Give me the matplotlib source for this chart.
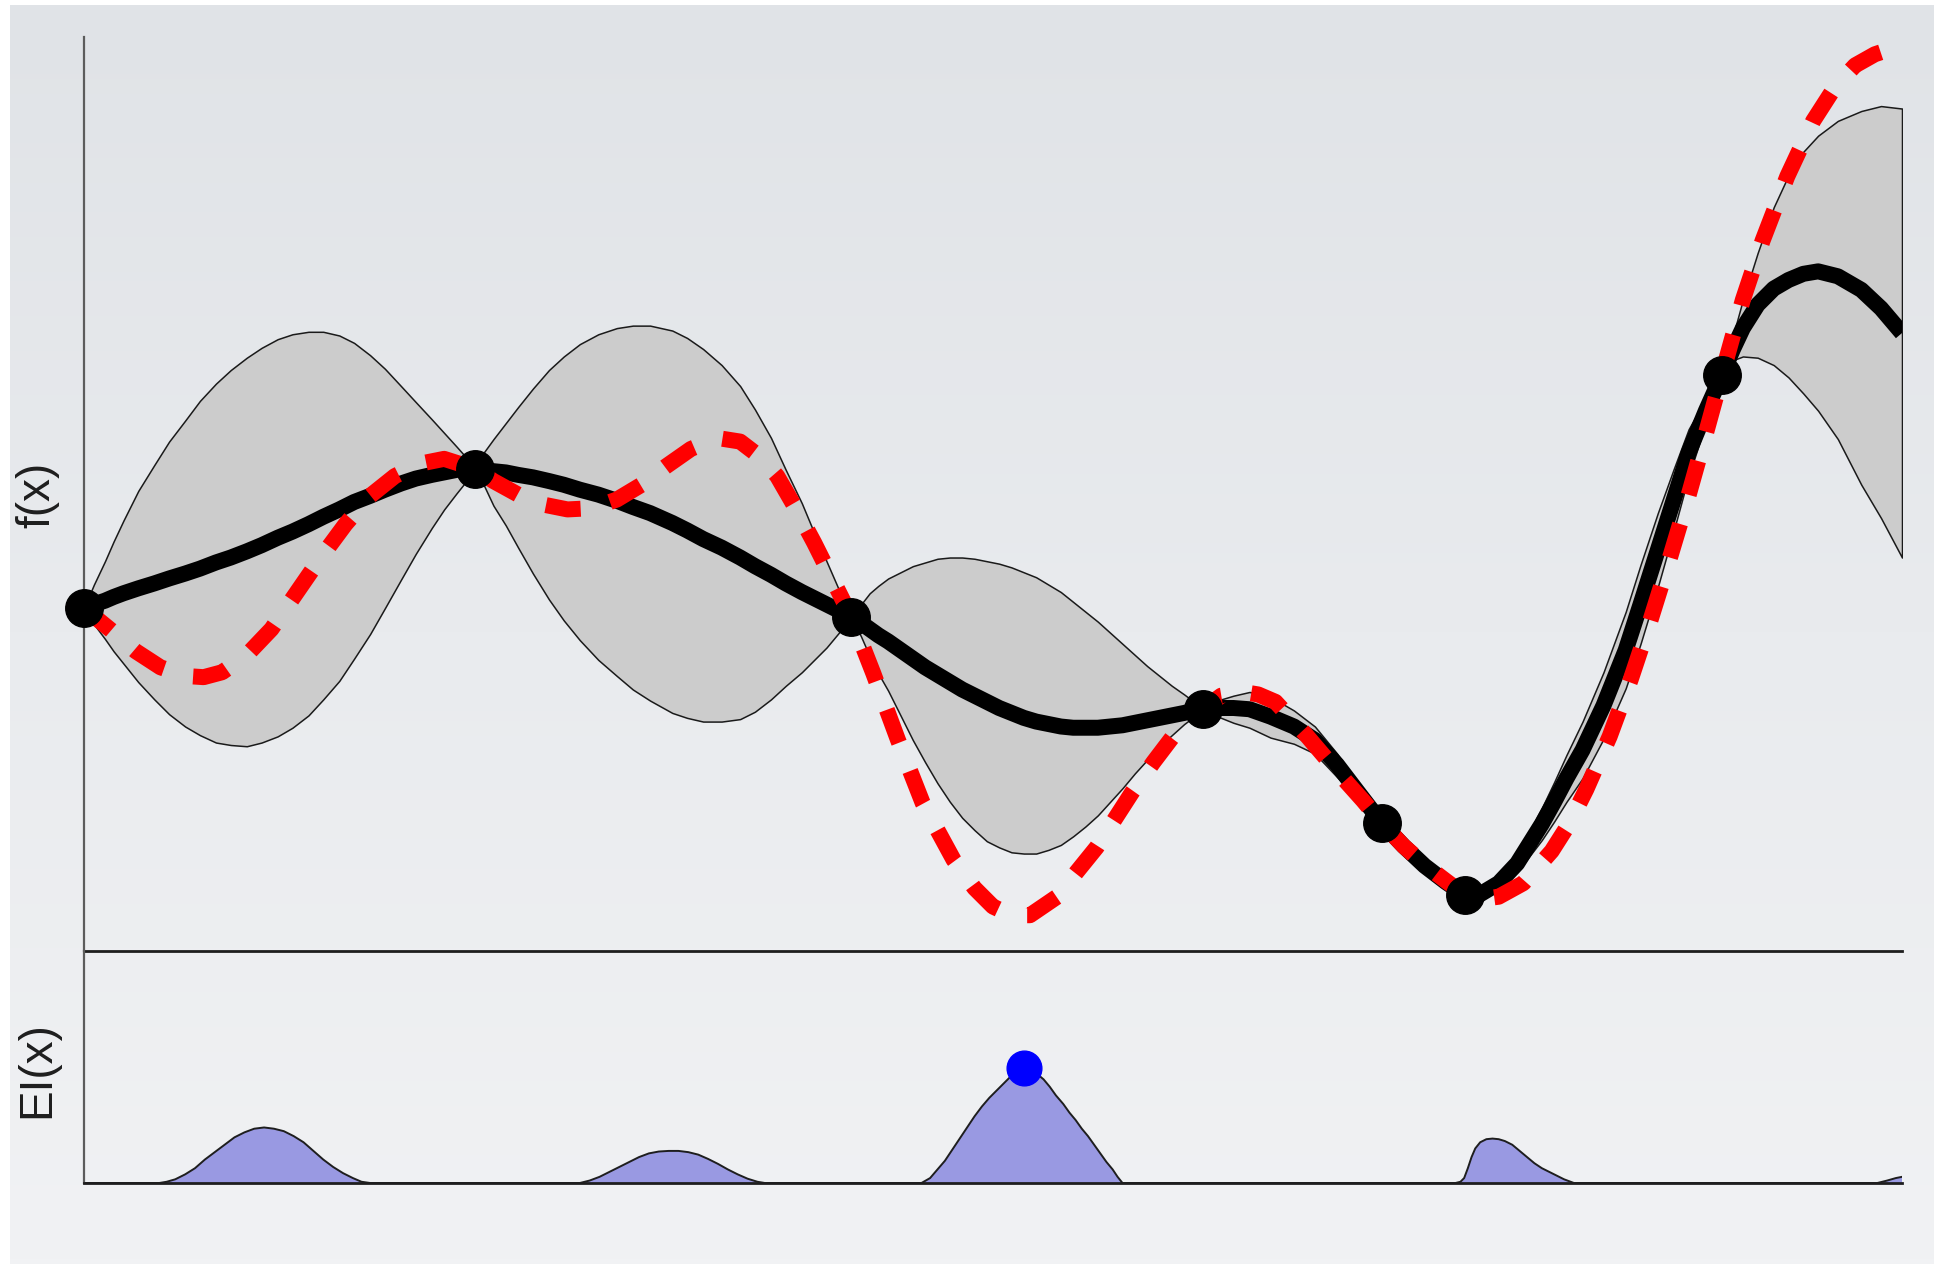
import numpy as np
import matplotlib
matplotlib.use("Agg")
import matplotlib.pyplot as plt
from matplotlib.patches import Rectangle
from matplotlib.colors import LinearSegmentedColormap

# ---- Gaussian-process posterior (mean and confidence band) ----
gp_x = [0.00, 0.08, 0.17, 0.24, 0.32, 0.44, 0.57, 0.69, 0.82, 0.94, 1.07, 1.19, 1.32, 1.44, 1.57,
        1.69, 1.82, 1.94, 2.07, 2.19, 2.32, 2.44, 2.57, 2.69, 2.82, 2.92, 3.02, 3.10, 3.17,
        3.24, 3.32, 3.42, 3.52, 3.64, 3.77, 3.89, 4.02, 4.17, 4.32, 4.45, 4.59, 4.77, 4.89, 5.02,
        5.17, 5.32, 5.44, 5.57, 5.69, 5.82, 5.92, 6.02, 6.12, 6.22,
        6.30, 6.37, 6.44, 6.52, 6.62, 6.72, 6.82, 6.92, 7.02, 7.12, 7.22, 7.32, 7.42, 7.52, 7.62,
        7.72, 7.82, 7.92, 8.02, 8.12, 8.22, 8.32, 8.42, 8.52, 8.62, 8.72, 8.82, 8.92, 9.00, 9.07,
        9.15, 9.22, 9.32, 9.45, 9.62, 9.81, 9.98, 10.16, 10.32, 10.42, 10.52,
        10.70, 10.87, 11.04, 11.20,
        11.32, 11.47, 11.62, 11.72, 11.82, 11.92, 12.02, 12.15, 12.32, 12.50, 12.62, 12.76, 12.89,
        13.01, 13.15, 13.28,
        13.37, 13.45, 13.57, 13.70, 13.82, 13.94, 14.06, 14.22, 14.41, 14.57, 14.74]

gp_mean = [2.78, 2.81, 2.84, 2.87, 2.90, 2.94, 2.98, 3.02, 3.06, 3.10, 3.15, 3.19, 3.24, 3.29, 3.35,
           3.40, 3.46, 3.52, 3.58, 3.64, 3.69, 3.74, 3.79, 3.83, 3.86, 3.88, 3.90, 3.91, 3.91,
           3.90, 3.89, 3.88, 3.86, 3.84, 3.81, 3.78, 3.74, 3.70, 3.65, 3.60, 3.55, 3.47, 3.41, 3.34,
           3.27, 3.19, 3.12, 3.05, 2.98, 2.91, 2.86, 2.81, 2.76, 2.71,
           2.66, 2.61, 2.56, 2.51, 2.44, 2.37, 2.30, 2.24, 2.18, 2.12, 2.07, 2.02, 1.97, 1.93, 1.89,
           1.86, 1.84, 1.82, 1.81, 1.81, 1.81, 1.82, 1.83, 1.85, 1.87, 1.89, 1.91, 1.93, 1.95, 1.96,
           1.97, 1.97, 1.97, 1.96, 1.90, 1.82, 1.71, 1.51, 1.30, 1.17, 1.04,
           0.85, 0.69, 0.56, 0.45,
           0.46, 0.55, 0.71, 0.87, 1.03, 1.21, 1.40, 1.63, 1.99, 2.44, 2.81, 3.25, 3.66,
           4.04, 4.38, 4.67,
           4.88, 5.05, 5.24, 5.37, 5.44, 5.49, 5.51, 5.47, 5.36, 5.21, 5.01]

gp_upper = [2.78, 2.97, 3.16, 3.32, 3.49, 3.73, 3.94, 4.13, 4.30, 4.46, 4.60, 4.71, 4.81, 4.89, 4.96,
            5.00, 5.02, 5.02, 4.99, 4.93, 4.83, 4.72, 4.58, 4.45, 4.31, 4.20, 4.09, 4.00, 3.91,
            4.04, 4.15, 4.28, 4.41, 4.56, 4.71, 4.82, 4.92, 5.00, 5.05, 5.07, 5.07, 5.03, 4.97, 4.88,
            4.75, 4.58, 4.39, 4.16, 3.90, 3.63, 3.39, 3.16, 2.93, 2.71,
            2.81, 2.90, 2.96, 3.02, 3.07, 3.12, 3.15, 3.18, 3.19, 3.19, 3.18, 3.16, 3.14, 3.11, 3.07,
            3.03, 2.97, 2.91, 2.83, 2.75, 2.67, 2.58, 2.49, 2.40, 2.31, 2.23, 2.15, 2.08, 2.02, 1.96,
            2.01, 2.04, 2.07, 2.10, 2.06, 1.95, 1.82, 1.60, 1.37, 1.21, 1.04,
            0.86, 0.70, 0.57, 0.45,
            0.47, 0.58, 0.78, 0.97, 1.16, 1.37, 1.59, 1.86, 2.26, 2.75, 3.13, 3.55, 3.91,
            4.23, 4.48, 4.67,
            4.99, 5.28, 5.66, 6.03, 6.29, 6.48, 6.61, 6.73, 6.81, 6.85, 6.83]

gp_lower = [2.78, 2.65, 2.53, 2.43, 2.33, 2.18, 2.04, 1.92, 1.82, 1.75, 1.69, 1.67, 1.66, 1.69, 1.74,
            1.81, 1.91, 2.04, 2.19, 2.37, 2.57, 2.78, 3.01, 3.22, 3.43, 3.58, 3.71, 3.81, 3.91,
            3.78, 3.61, 3.45, 3.27, 3.06, 2.85, 2.68, 2.52, 2.36, 2.23, 2.12, 2.03, 1.93, 1.89, 1.86,
            1.86, 1.88, 1.94, 2.04, 2.15, 2.26, 2.36, 2.46, 2.58, 2.71,
            2.55, 2.39, 2.25, 2.11, 1.91, 1.71, 1.53, 1.36, 1.21, 1.08, 0.98, 0.89, 0.84, 0.80, 0.79,
            0.79, 0.82, 0.86, 0.93, 1.01, 1.10, 1.21, 1.32, 1.44, 1.55, 1.66, 1.75, 1.84, 1.90, 1.96,
            1.92, 1.89, 1.85, 1.81, 1.73, 1.68, 1.60, 1.41, 1.24, 1.13, 1.04,
            0.84, 0.68, 0.55, 0.45,
            0.45, 0.52, 0.64, 0.77, 0.90, 1.05, 1.21, 1.40, 1.72, 2.13, 2.49, 2.95, 3.41,
            3.85, 4.28, 4.67,
            4.79, 4.82, 4.81, 4.75, 4.65, 4.52, 4.38, 4.15, 3.78, 3.51, 3.19]

# ---- Objective function ----
true_x = [0.00, 0.22, 0.42, 0.62, 0.82, 0.97, 1.12, 1.32, 1.52, 1.72, 1.92, 2.12, 2.32, 2.52, 2.72, 2.92, 3.17,
          3.32, 3.52, 3.72, 3.92, 4.12, 4.32, 4.52, 4.72, 4.92, 5.13, 5.32, 5.49, 5.62, 5.77, 5.92, 6.07, 6.22,
          6.40, 6.60, 6.80, 7.05, 7.22, 7.37, 7.52, 7.67, 7.89, 8.04, 8.21, 8.50, 8.67, 8.86, 9.07,
          9.22, 9.40, 9.52, 9.66, 9.91, 10.20, 10.37, 10.52,
          10.70, 10.87, 11.04, 11.20,
          11.32, 11.47, 11.67, 11.90, 12.04, 12.18, 12.37, 12.54, 12.70, 12.85, 13.00, 13.14, 13.28,
          13.45, 13.61, 13.81, 14.02, 14.20, 14.36, 14.52, 14.64, 14.74]

true_f = [2.78, 2.60, 2.43, 2.30, 2.23, 2.22, 2.26, 2.40, 2.61, 2.90, 3.19, 3.46, 3.69, 3.85, 3.95, 3.99, 3.91,
          3.81, 3.70, 3.62, 3.58, 3.59, 3.66, 3.78, 3.93, 4.07, 4.16, 4.13, 4.00, 3.85, 3.59, 3.31, 3.01, 2.71,
          2.25, 1.71, 1.20, 0.74, 0.51, 0.36, 0.29, 0.29, 0.44, 0.63, 0.84, 1.29, 1.53, 1.78, 1.96,
          2.07, 2.10, 2.08, 2.02, 1.75, 1.41, 1.22, 1.04,
          0.85, 0.70, 0.57, 0.45,
          0.42, 0.44, 0.55, 0.81, 1.03, 1.31, 1.74, 2.20, 2.68, 3.16, 3.66, 4.16, 4.67,
          5.28, 5.76, 6.28, 6.73, 7.01, 7.18, 7.27, 7.31, 7.33]

# ---- Observations ----
obs_x = [0.00, 3.17, 6.22, 9.07, 10.52, 11.20, 13.28]
obs_f = [2.78, 3.91, 2.71, 1.96, 1.04, 0.45, 4.67]

# ---- Expected improvement ----
ei_x = [0.00,
        0.61, 0.67, 0.74, 0.82, 0.90, 0.98, 1.06, 1.14, 1.22, 1.30, 1.38, 1.46, 1.54, 1.62, 1.70,
        1.78, 1.86, 1.94, 2.02, 2.10, 2.18, 2.25, 2.32,
        4.02, 4.10, 4.18, 4.26, 4.34, 4.42, 4.50, 4.58, 4.66, 4.74, 4.82, 4.90, 4.98, 5.06, 5.14,
        5.22, 5.30, 5.38, 5.46, 5.52,
        6.79, 6.86, 6.92, 6.98, 7.04, 7.10, 7.16, 7.22, 7.28, 7.34, 7.40, 7.46, 7.52, 7.58, 7.62,
        7.66, 7.72, 7.78, 7.83, 7.88, 7.94, 7.99, 8.04, 8.09, 8.14, 8.19, 8.24, 8.29, 8.34, 8.38, 8.42,
        11.12, 11.16, 11.19, 11.22, 11.25, 11.28, 11.32, 11.37, 11.42, 11.47, 11.52, 11.58, 11.64,
        11.70, 11.76, 11.82, 11.88, 11.94, 12.00, 12.08,
        14.54, 14.62, 14.69, 14.74]
ei_y = [0.00,
        0.00, 0.01, 0.03, 0.07, 0.12, 0.19, 0.25, 0.31, 0.37, 0.41, 0.44, 0.45, 0.44, 0.42, 0.38,
        0.33, 0.26, 0.19, 0.13, 0.08, 0.04, 0.01, 0.00,
        0.00, 0.02, 0.05, 0.09, 0.13, 0.17, 0.21, 0.24, 0.255, 0.26, 0.26, 0.25, 0.23, 0.195, 0.155,
        0.11, 0.07, 0.035, 0.01, 0.00,
        0.00, 0.04, 0.11, 0.18, 0.27, 0.36, 0.45, 0.54, 0.62, 0.69, 0.75, 0.81, 0.87, 0.91, 0.93,
        0.92, 0.89, 0.84, 0.78, 0.71, 0.64, 0.57, 0.51, 0.44, 0.38, 0.31, 0.24, 0.17, 0.11, 0.05, 0.00,
        0.00, 0.01, 0.04, 0.12, 0.21, 0.28, 0.33, 0.355, 0.36, 0.355, 0.34, 0.31, 0.26,
        0.21, 0.16, 0.12, 0.09, 0.06, 0.03, 0.00,
        0.00, 0.02, 0.04, 0.05]

W, H = 1934, 1264
fig = plt.figure(figsize=(W / 100, H / 100), dpi=100)

# soft slide background with a thin white margin
bg = fig.add_axes([0, 0, 1, 1], zorder=-10)
grad = np.linspace(0, 1, 256).reshape(-1, 1)
bg_cmap = LinearSegmentedColormap.from_list("bg", ["#e0e3e7", "#e9ebee", "#f1f2f4"])
bg.imshow(grad, aspect="auto", cmap=bg_cmap, extent=[0, 1, 0, 1], origin="upper")
bg.add_patch(Rectangle((0, 0), 10 / W, 1, color="white", lw=0))
bg.add_patch(Rectangle((0, 1 - 5 / H), 1, 5 / H, color="white", lw=0))
bg.set_xlim(0, 1)
bg.set_ylim(0, 1)
bg.axis("off")

left = 84 / W
width = (1902 - 84) / W
ax = fig.add_axes([left, 1 - 951 / H, width, (951 - 37) / H])
ax_ei = fig.add_axes([left, 1 - 1183 / H, width, (1183 - 951) / H])

for a in (ax, ax_ei):
    a.set_facecolor("none")
    a.set_xlim(0, 14.74)
    a.set_xticks([])
    a.set_yticks([])
    a.spines["top"].set_visible(False)
    a.spines["right"].set_visible(False)
    a.spines["left"].set_color("#5c5c5c")
    a.spines["left"].set_linewidth(1.6)
    a.spines["bottom"].set_color("#1e1e1e")
    a.spines["bottom"].set_linewidth(2.0)

ax.set_ylim(0, 7.41)
ax_ei.set_ylim(0, 1.88)

# posterior band, mean, objective and samples
ax.fill_between(gp_x, gp_lower, gp_upper, facecolor="#cccccc",
                edgecolor="#1a1a1a", linewidth=1.1, zorder=1)
ax.plot(gp_x, gp_mean, color="black", lw=11.5, solid_capstyle="butt",
        solid_joinstyle="round", zorder=2)
ax.plot(true_x, true_f, color="#ff0000", lw=11.5, dashes=(2.2, 1.9),
        dash_capstyle="butt", dash_joinstyle="round", zorder=3)
ax.plot(obs_x, obs_f, "o", color="black", ms=27, clip_on=False, zorder=4)

# acquisition function and its maximiser
ax_ei.fill_between(ei_x, 0, ei_y, facecolor="#9999e2", edgecolor="none", zorder=1)
ax_ei.plot(ei_x, ei_y, color="#1e1e1e", lw=1.4, zorder=2)
i_best = int(np.argmax(ei_y))
ax_ei.plot(ei_x[i_best], ei_y[i_best], "o", color="#0000ff", ms=25,
           clip_on=False, zorder=3)

label_font = dict(fontsize=33, family=["Liberation Sans", "DejaVu Sans"],
                  color="#1e1e1e", rotation=90, ha="center", va="center")
fig.text(37 / W, 1 - 495 / H, "f(x)", **label_font)
fig.text(37 / W, 1 - 1070 / H, "EI(x)", **label_font)

fig.savefig("out.png", dpi=100)
